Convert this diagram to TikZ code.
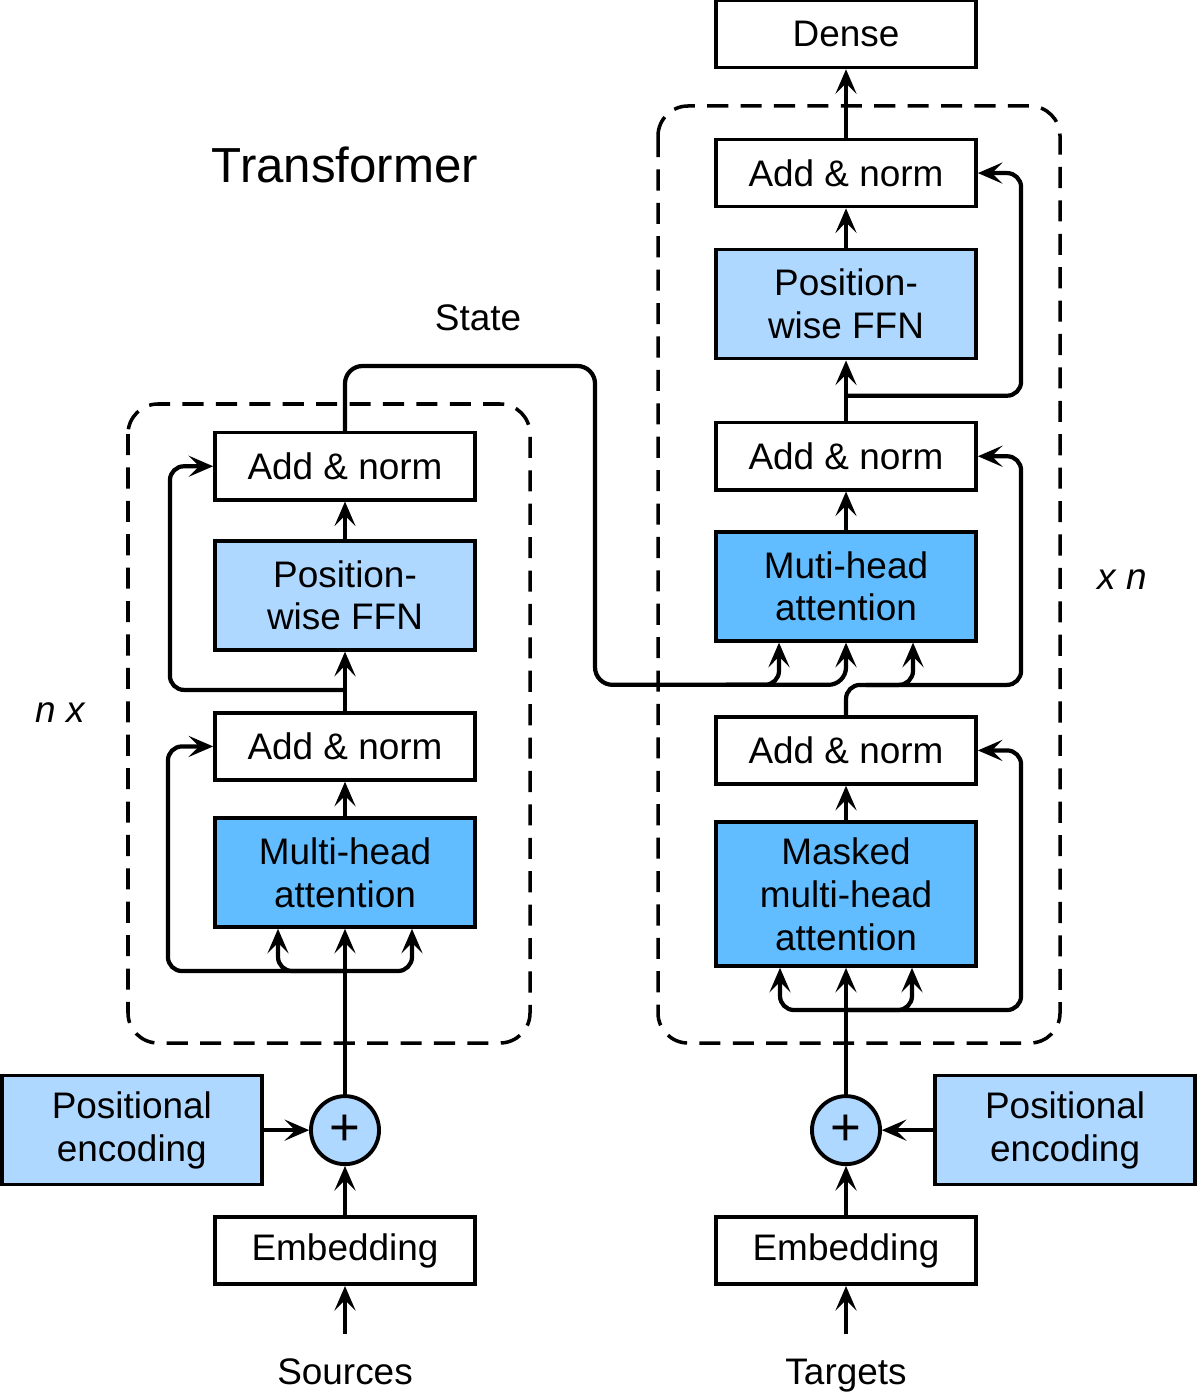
\documentclass[tikz,border=0pt]{standalone}
\usepackage{fontspec}
\setmainfont{Liberation Sans}
\usepackage{xcolor}
\usepackage{tikz}
\usetikzlibrary{arrows.meta,positioning,calc}
\definecolor{attblue}{RGB}{97,189,255}
\definecolor{ffnblue}{RGB}{174,216,255}

\begin{document}
\begin{tikzpicture}[x=0.01cm, y=-0.01cm,
    box/.style={draw, line width=1pt, minimum width=2.6cm, minimum height=0.67cm,
                inner sep=0pt, outer sep=0pt, align=center,
                font=\fontsize{10.5}{12.2}\selectfont, fill=#1},
    box/.default=white,
    tall/.style={box=#1, minimum height=1.09cm},
    sumnode/.style={draw, circle, line width=1.1pt, fill=ffnblue, minimum size=0.68cm,
                    inner sep=0pt, outer sep=0pt, font=\fontsize{15}{15}\selectfont},
    arr/.style={-{Stealth[length=7pt, width=6pt, inset=3pt]}, line width=1.2pt,
                shorten >=0.5pt},
    frame/.style={line width=1pt, dash pattern=on 6pt off 3.5pt, rounded corners=0.3cm},
    lbl/.style={font=\fontsize{10.5}{12.2}\selectfont},
    rep/.style={font=\fontsize{10.5}{12.2}\selectfont\itshape},
    node distance=0.4cm
]
\useasboundingbox (0,0) rectangle (1197,1395);

% encoder
\node[tall=attblue] (mha1) at (345,872.5) {Multi-head\\attention};
\node[box, above=0.38cm of mha1]    (an1)  {Add \& norm};
\node[tall=ffnblue, above=0.63cm of an1] (ffn1) {Position-\\wise FFN};
\node[box, above=0.41cm of ffn1]    (an2)  {Add \& norm};
\node[sumnode, below=1.69cm of mha1] (add1) {+};
\node[box, below=0.53cm of add1]    (emb1) {Embedding};
\node[tall=ffnblue, left=0.49cm of add1] (pe1) {Positional\\encoding};
\node[lbl, below=0.62cm of emb1]    (src)  {Sources};

% decoder
\node[tall=attblue, minimum height=1.44cm] (mmha) at (846,894)
                         {Masked\\multi-head\\attention};
\node[box, above=0.38cm of mmha]    (an3)  {Add \& norm};
\node[tall=attblue, above=0.76cm of an3] (mha2) {Muti-head\\attention};
\node[box, above=0.42cm of mha2]    (an4)  {Add \& norm};
\node[tall=ffnblue, above=0.64cm of an4] (ffn2) {Position-\\wise FFN};
\node[box, above=0.43cm of ffn2]    (an5)  {Add \& norm};
\node[box, above=0.72cm of an5]     (dense) {Dense};
\node[sumnode, below=1.30cm of mmha] (add2) {+};
\node[box, below=0.53cm of add2]    (emb2) {Embedding};
\node[tall=ffnblue, right=0.55cm of add2] (pe2) {Positional\\encoding};
\node[lbl, below=0.62cm of emb2]    (tgt)  {Targets};

% labels
\node[font=\fontsize{14}{16}\selectfont] (title) at (345,165) {Transformer};
\node[lbl] (state) at (478,318) {State};
\node[rep] (nx) at (60,713) {n x};
\node[rep] (xn) at (1122,580) {x n};

\draw[frame] (128,404) rectangle (530,1043);
\draw[frame] (658,106) rectangle (1060,1043);

% encoder connectors
\coordinate (s1) at ($(mha1.south)+(0,44)$);
\coordinate (s2) at ($(an1.north)+(0,-23)$);
\draw[arr, shorten <=3.5pt] (src) -- (emb1);
\draw[arr] (emb1) -- (add1);
\draw[arr] (pe1) -- (add1);
\draw[arr] (add1) -- (mha1);
\draw[arr, rounded corners=4pt] (s1) -| ($(mha1.south)+(-67,0)$);
\draw[arr, rounded corners=4pt] (s1) -| ($(mha1.south)+(67,0)$);
\draw[arr, rounded corners=4pt] (s1) -| ($(an1.west)+(-47,0)$) -- (an1.west);
\draw[arr] (mha1) -- (an1);
\draw[arr] (an1) -- (ffn1);
\draw[arr, rounded corners=4pt] (s2) -| ($(an2.west)+(-45,0)$) -- (an2.west);
\draw[arr] (ffn1) -- (an2);

% state into decoder
\coordinate (st1) at (595,366);
\coordinate (st2) at ($(mha2.south)+(0,44)$);
\draw[arr, rounded corners=5pt] (an2.north) |- (st1) -- (st1 |- st2) -| (mha2.south);
\draw[arr, rounded corners=4pt] ($(st2)+(-120,0)$) -| ($(mha2.south)+(-67,0)$);

% decoder connectors
\coordinate (s5) at ($(mmha.south)+(0,44)$);
\coordinate (s3) at ($(an3.north)+(0,-32)$);
\coordinate (s4) at ($(an4.north)+(0,-27)$);
\draw[arr, shorten <=3.5pt] (tgt) -- (emb2);
\draw[arr] (emb2) -- (add2);
\draw[arr] (pe2) -- (add2);
\draw[arr] (add2) -- (mmha);
\draw[arr, rounded corners=4pt] (s5) -| ($(mmha.south)+(-66,0)$);
\draw[arr, rounded corners=4pt] (s5) -| ($(mmha.south)+(66,0)$);
\draw[arr, rounded corners=4pt] (s5) -| ($(an3.east)+(45,0)$) -- (an3.east);
\draw[arr] (mmha) -- (an3);
\draw[arr, rounded corners=4pt] (an3.north) -- (s3) -| ($(an4.east)+(45,0)$) -- (an4.east);
\draw[arr, rounded corners=4pt] ($(s3)+(20,0)$) -| ($(mha2.south)+(67,0)$);
\draw[arr] (mha2) -- (an4);
\draw[arr] (an4) -- (ffn2);
\draw[arr, rounded corners=4pt] (s4) -| ($(an5.east)+(45,0)$) -- (an5.east);
\draw[arr] (ffn2) -- (an5);
\draw[arr] (an5) -- (dense);
\end{tikzpicture}
\end{document}
